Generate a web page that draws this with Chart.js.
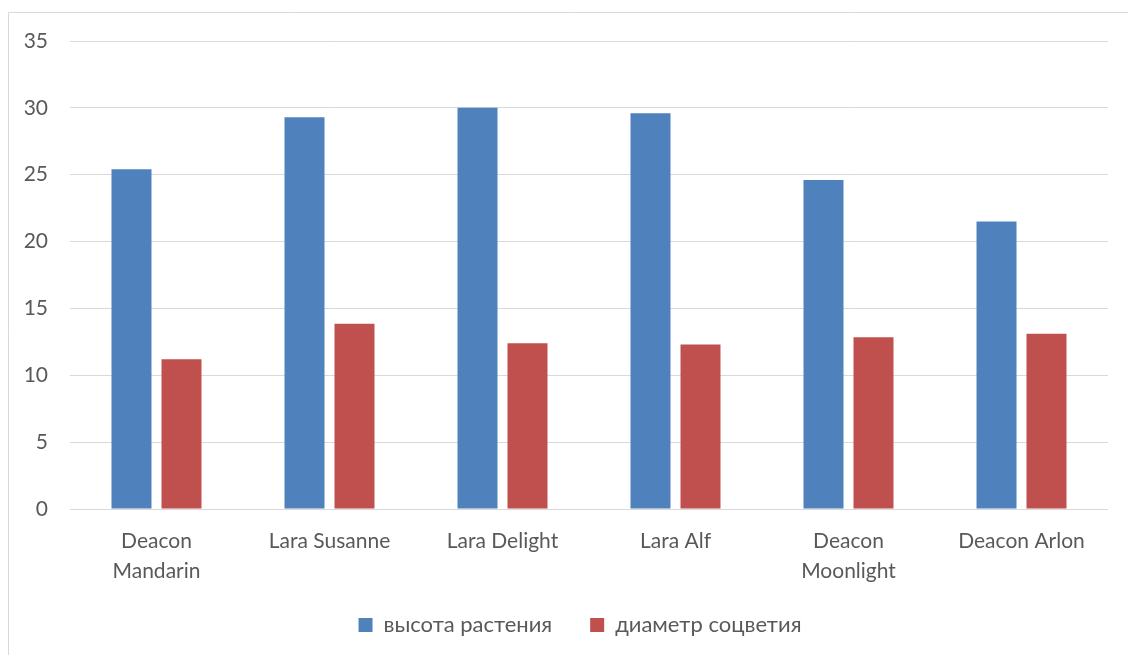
<!DOCTYPE html>
<html>
<head>
<meta charset="utf-8">
<script src="https://cdn.jsdelivr.net/npm/chart.js@4"></script>
<style>
  html, body { margin: 0; padding: 0; background: #fff; }
  #wrap { width: 1128px; height: 655px; position: relative; }
</style>
</head>
<body>
<div id="wrap"><canvas id="chart"></canvas></div>
<script>
var varieties = [['Deacon', 'Mandarin'], 'Lara Susanne', 'Lara Delight', 'Lara Alf', ['Deacon', 'Moonlight'], 'Deacon Arlon'];
var plantHeight = [25.4, 29.3, 30.0, 29.6, 24.6, 21.5];
var flowerDiameter = [11.2, 13.85, 12.4, 12.3, 12.85, 13.1];
var seriesNames = ['высота растения', 'диаметр соцветия'];
var yTicks = [0, 5, 10, 15, 20, 25, 30, 35];

var gray = '#d9d9d9';
var textColor = '#595959';

// frame line on the left and top, like the office chart border
var framePlugin = {
  id: 'frame',
  beforeDraw: function(chart) {
    var ctx = chart.ctx;
    ctx.save();
    ctx.strokeStyle = gray;
    ctx.lineWidth = 1;
    ctx.beginPath();
    ctx.moveTo(8.5, 655);
    ctx.lineTo(8.5, 12.5);
    ctx.lineTo(1128, 12.5);
    ctx.stroke();
    ctx.restore();
  }
};

// nudge the legend a bit (wide item gap needs big padding)
var legendShift = {
  id: 'legendShift',
  afterLayout: function(chart) {
    var lg = chart.legend;
    lg.top -= 9; lg.bottom -= 9;
    lg.left += 22; lg.right += 22;
  }
};

var ctx = document.getElementById('chart');
var myChart = new Chart(ctx, {
  type: 'bar',
  data: {
    labels: varieties,
    datasets: [
      {
        label: seriesNames[0],
        data: plantHeight,
        backgroundColor: '#4f81bd',
        categoryPercentage: 0.578,
        barPercentage: 0.8
      }, {
        label: seriesNames[1],
        data: flowerDiameter,
        backgroundColor: '#c0504d',
        categoryPercentage: 0.578,
        barPercentage: 0.8
      }
    ]
  },
  options: {
    responsive: true,
    maintainAspectRatio: false,
    animation: false,
    layout: {
      padding: { left: 8, right: 20, top: 41, bottom: 4 }
    },
    plugins: {
      tooltip: { enabled: false },
      legend: {
        position: 'bottom',
        maxHeight: 66,
        labels: {
          color: textColor,
          font: { family: 'Lato', size: 22 },
          boxWidth: 14,
          boxHeight: 14,
          padding: 38
        }
      }
    },
    scales: {
      x: {
        grid: { display: false, drawTicks: false },
        border: { display: false },
        ticks: {
          color: textColor,
          font: { family: 'Lato', size: 21, lineHeight: 1.43 },
          padding: 17,
          maxRotation: 0
        },
        afterFit: function(s) { s.height = 76; }
      },
      y: {
        min: 0,
        max: 35,
        afterBuildTicks: function(s) {
          s.ticks = yTicks.map(function(v) { return { value: v }; });
        },
        grid: { color: gray, lineWidth: 1, drawTicks: false },
        border: { display: false },
        ticks: {
          color: textColor,
          font: { family: 'Lato', size: 21 },
          padding: 22
        },
        afterFit: function(s) { s.width = 62; }
      }
    }
  },
  plugins: [framePlugin, legendShift]
});
</script>
</body>
</html>
